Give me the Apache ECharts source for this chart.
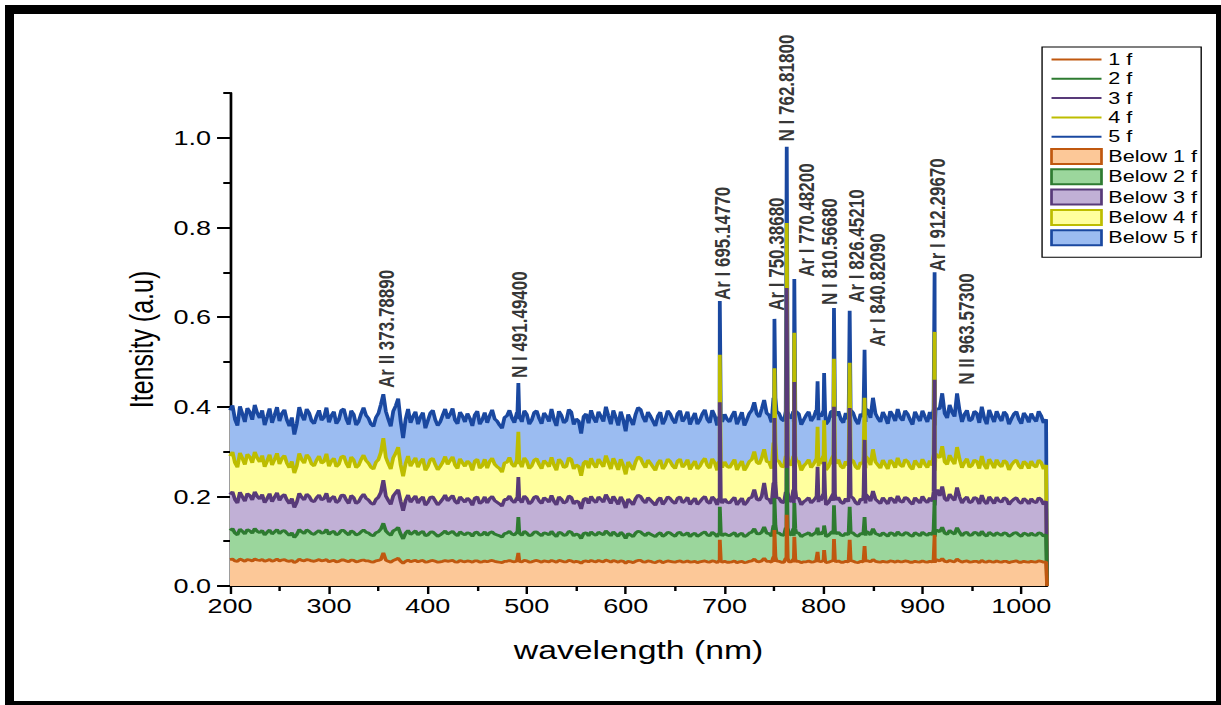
<!DOCTYPE html>
<html>
<head>
<meta charset="utf-8">
<script src="https://cdn.jsdelivr.net/npm/echarts@6/dist/echarts.min.js"></script>
<style>
html, body { margin: 0; padding: 0; background: #fff; overflow: hidden; width: 1221px; height: 705px; }
/* the reference picture is stretched sideways, so the chart is drawn narrower and scaled */
#chart { position: absolute; left: 0; top: 0; width: 904px; height: 705px; transform: scaleX(1.3507); transform-origin: 0 0; }
#frame { position: absolute; left: 5px; top: 5px; width: 1220px; height: 705px; box-sizing: border-box; border: 9px solid #000; pointer-events: none; }
</style>
</head>
<body>
<div id="chart"></div>
<div id="frame"></div>
<script>
// ---- data (intensity in thousandths) ----
// f* : samples at 200, 205, ... 1025 nm ; h* : samples at 202.5, 207.5, ... 1022.5 nm
const gridStart = 200
const gridStep = 5
const specEnd = 1026

const f5 = [
  [392,372,401,366,388,404,375,359,396,381,368,393,357,338,399,370,386,362,392,376],
  [365,389,371,395,360,383,367,398,374,356,385,428,372,390,418,330,395,378,361,387],
  [369,392,358,381,374,396,362,379,385,357,390,371,364,393,368,352,380,375,387,366],
  [383,370,391,362,378,395,357,381,369,388,373,340,384,392,365,378,400,361,376,389],
  [345,371,383,394,366,379,357,388,372,384,363,391,375,360,386,370,393,364,380,372],
  [383,366,390,374,358,385,410,377,415,381,372,385,368,379,366,384,371,389,376,370],
  [382,368,375,390,364,372,386,361,378,392,420,374,388,362,381,395,369,384,360,377],
  [391,366,372,395,430,375,388,430,366,392,372,385,400,361,379,390,368,382,373,389],
  [362,378,385,367,380,372]
]
const h5 = [
  [403,358,384,397,371,386,392,377,364,399,385,370,376,362,381,395,368,379,370,398],
  [380,362,392,373,391,359,384,381,361,376,405,390,356,402,368,372,364,389,377,352],
  [386,371,366,395,383,370,388,366,374,382,361,387,380,373,359,376,392,364,372,391],
  [361,387,374,386,367,372,390,364,394,360,368,378,363,375,389,367,380,392,358,371],
  [383,359,398,377,388,368,379,361,391,371,385,367,389,374,361,384,372,392,358,366],
  [372,380,361,388,371,392,384,395,386,365,390,372,391,374,389,360,381,368,392,378],
  [361,389,380,372,386,393,370,384,366,375,385,366,377,390,368,376,391,371,389,368],
  [378,388,358,396,385,404,378,392,383,368,390,364,375,393,366,377,389,361,384,372],
  [386,365,374,390,364]
]
const f4 = [
  [290,275,297,271,288,299,277,266,293,282,272,291,264,252,296,274,286,268,290,278],
  [267,285,272,290,264,281,269,292,274,261,282,330,273,286,310,245,290,277,265,284],
  [267,285,259,276,271,288,262,275,279,258,283,268,263,285,266,254,276,272,281,265],
  [278,268,284,262,274,287,258,277,267,282,270,246,279,285,264,274,291,261,273,283],
  [249,268,277,285,264,274,258,281,269,278,262,283,271,260,279,267,285,263,275,269],
  [277,264,282,270,258,278,300,272,305,276,269,278,266,274,264,278,268,282,272,267],
  [276,266,271,282,263,269,279,261,273,284,305,270,281,261,275,286,266,278,260,272],
  [283,264,269,290,312,271,281,310,264,284,269,278,290,261,274,282,266,276,270,281],
  [262,273,279,265,276,270]
]
const h4 = [
  [299,265,285,294,275,286,291,279,270,296,285,274,278,268,282,293,272,281,274,295],
  [279,266,288,274,288,264,282,280,265,276,298,287,261,296,270,273,267,286,277,258],
  [282,271,267,289,280,270,284,267,273,279,263,283,278,272,262,275,287,266,272,286],
  [262,281,271,280,266,270,283,264,286,261,267,274,263,272,283,266,276,285,259,269],
  [277,259,288,273,281,266,274,261,283,268,279,265,282,270,261,278,269,284,258,264],
  [267,273,259,279,267,282,276,285,278,262,281,267,282,269,280,258,274,264,282,272],
  [259,280,273,267,278,283,266,276,263,270,277,263,271,281,264,270,282,266,280,264],
  [272,280,257,286,277,292,272,283,276,265,281,262,270,283,263,271,280,259,277,268],
  [278,262,269,281,261]
]
const f3 = [
  [204,193,209,189,202,210,194,186,206,198,191,204,184,175,207,192,200,188,203,195],
  [187,200,190,203,184,197,188,205,192,182,198,236,191,201,215,168,203,194,185,199],
  [187,199,181,194,190,202,184,193,196,180,199,188,185,200,187,178,193,191,197,186],
  [195,188,200,184,193,202,181,194,188,198,190,172,196,200,186,193,204,184,191,199],
  [174,188,195,200,185,192,180,197,189,195,184,199,190,182,196,188,200,184,193,189],
  [194,185,198,189,181,196,215,191,230,193,188,196,186,192,185,195,188,197,191,187],
  [194,186,190,198,184,188,196,182,192,199,212,189,197,183,193,201,187,195,182,191],
  [200,186,189,215,222,190,197,220,185,199,188,195,203,183,192,198,187,194,189,197],
  [184,191,195,186,193,189]
]
const h3 = [
  [210,185,199,206,192,200,204,195,188,208,200,192,195,187,198,205,190,197,192,207],
  [196,186,202,192,202,184,198,196,185,193,209,201,182,208,189,191,187,201,194,180],
  [198,190,187,203,196,189,199,187,191,196,184,199,195,191,183,193,201,186,190,201],
  [183,198,190,197,187,189,199,185,201,183,187,193,184,191,199,187,194,200,182,189],
  [194,181,203,191,197,186,192,182,199,188,196,186,198,189,182,195,188,199,181,185],
  [187,192,181,196,187,198,194,200,195,183,197,187,198,188,197,181,192,185,198,191],
  [181,197,192,187,195,199,186,194,184,189,194,184,190,197,185,189,198,187,197,185],
  [191,197,180,201,195,205,191,199,194,186,198,183,189,199,184,190,197,182,194,188],
  [195,183,188,197,182]
]
const f2 = [
  [124,118,127,116,123,128,119,114,125,121,117,124,113,108,126,117,122,115,124,119],
  [115,122,117,124,114,120,116,125,118,112,121,140,117,123,131,105,124,119,114,122],
  [114,121,111,118,116,122,112,117,119,111,120,115,113,121,114,109,118,116,120,113],
  [118,114,121,112,117,122,110,118,114,120,116,106,119,121,113,117,123,112,116,120],
  [106,114,118,121,112,116,110,119,114,118,111,120,115,110,118,114,121,112,116,114],
  [117,112,119,115,110,118,128,116,132,117,114,118,113,116,112,118,114,119,116,113],
  [117,113,115,120,112,114,118,111,116,120,128,115,119,111,117,121,113,118,111,116],
  [120,113,114,124,131,115,119,130,112,120,114,118,122,111,116,119,113,117,114,119],
  [111,116,118,113,117,115]
]
const h2 = [
  [128,114,122,126,118,122,124,120,116,126,122,118,119,115,121,125,117,120,118,126],
  [120,114,124,118,123,114,121,120,114,119,127,123,113,126,116,118,115,123,119,112],
  [120,116,114,123,119,116,121,114,117,119,113,121,119,116,112,117,122,114,116,122],
  [112,120,116,119,114,115,120,113,122,112,114,117,112,116,120,114,118,121,111,115],
  [117,110,122,116,119,113,116,111,120,114,118,113,119,115,111,118,114,120,110,112],
  [114,116,110,118,113,120,117,120,118,111,119,114,119,114,119,110,116,112,120,115],
  [110,119,116,114,118,120,113,117,112,114,117,112,115,119,112,115,119,113,119,112],
  [116,119,110,121,118,124,116,120,118,113,120,112,115,120,112,116,119,111,118,114],
  [118,112,114,119,111]
]
const f1 = [
  [59,56,60,55,58,60,57,55,59,57,56,59,55,52,60,56,58,55,59,57],
  [54,57,55,58,54,57,55,58,56,53,57,74,55,57,62,51,58,56,54,57],
  [54,57,53,55,55,57,53,55,56,53,56,54,54,57,54,52,55,55,56,54],
  [56,54,57,53,55,57,53,56,54,56,55,51,56,57,54,55,58,53,55,56],
  [51,54,55,57,53,55,52,56,54,55,53,56,54,53,55,54,56,53,55,54],
  [55,53,56,54,52,55,60,54,62,55,54,55,53,54,53,55,54,56,54,53],
  [55,53,54,56,53,54,55,52,54,56,59,54,55,53,55,56,54,55,53,54],
  [56,53,54,58,61,54,55,60,53,56,54,55,57,53,54,56,53,55,54,56],
  [53,54,55,53,55,54]
]
const h1 = [
  [60,55,58,59,56,58,59,57,55,60,58,56,57,55,57,59,56,57,56,59],
  [56,54,58,56,58,54,57,56,54,56,59,58,53,59,55,55,54,57,56,53],
  [56,55,54,57,56,54,57,54,55,56,53,56,56,55,53,55,57,54,55,57],
  [53,56,55,56,54,55,57,54,57,53,54,55,54,55,57,54,56,57,53,55],
  [55,52,57,54,56,53,55,52,56,54,55,53,56,54,52,55,54,56,52,53],
  [53,54,52,55,53,56,55,56,55,53,56,53,56,54,55,52,54,53,56,54],
  [52,55,54,53,55,56,53,55,53,54,55,53,54,56,53,54,56,53,55,53],
  [54,55,52,56,55,57,54,56,55,53,55,52,54,56,53,54,55,52,55,53],
  [55,53,54,56,53]
]

// emission lines: position, top value and foot value for each series
const peakWl = [491.5, 695.15, 750.39, 762.82, 770.48, 794, 800.6, 810.57, 826.45, 841.5, 912.3]
const top5 = [453, 636, 596, 980, 685, 457, 475, 620, 614, 527, 700]
const top4 = [344, 516, 486, 810, 565, 355, 370, 507, 498, 420, 567]
const top3 = [243, 410, 375, 665, 455, 266, 277, 400, 397, 326, 460]
const top2 = [154, 177, 196, 263, 185, 130, 135, 180, 177, 154, 192]
const top1 = [74, 103, 125, 159, 110, 76, 80, 105, 103, 89, 114]
const foot5 = [380, 378, 420, 390, 390, 385, 390, 390, 385, 395, 395]
const foot4 = [280, 278, 320, 290, 290, 285, 290, 290, 285, 290, 295]
const foot3 = [195, 195, 230, 210, 215, 200, 205, 205, 200, 205, 210]
const foot2 = [118, 118, 135, 130, 128, 120, 122, 122, 120, 122, 125]
const foot1 = [55, 56, 65, 62, 60, 56, 57, 57, 57, 57, 58]

// line labels: text, wavelength where the label stands, intensity where it starts
const annoText = ['Ar II 373.78890', 'N I 491.49400', 'Ar I 695.14770', 'Ar I 750.38680', 'N I 762.81800',
  'Ar I 770.48200', 'N I 810.56680', 'Ar I 826.45210', 'Ar I 840.82090', 'Ar I 912.29670', 'N II 963.57300']
const annoX = [357.7, 491.7, 697, 752, 762.2, 782.4, 805.2, 832.4, 854.2, 914.3, 943.7]
const annoY = [0.442, 0.464, 0.638, 0.614, 0.992, 0.69, 0.627, 0.632, 0.534, 0.7015, 0.449]

const names = ['1 f', '2 f', '3 f', '4 f', '5 f']
const xMajor = [200, 300, 400, 500, 600, 700, 800, 900, 1000]
const xMinor = [250, 350, 450, 550, 650, 750, 850, 950]
const yMajor = [0, 0.2, 0.4, 0.6, 0.8, 1.0]
const yMinor = [0.1, 0.3, 0.5, 0.7, 0.9, 1.1]

// ---- styles ----
const lineColors = ['#c0580f', '#2e7b31', '#583a79', '#bdbd00', '#1a48a0']
const fillColors = ['#fcc898', '#9bd69c', '#c1b0d6', '#ffff9e', '#9bbcf1']
const font = "'Liberation Sans', Arial, sans-serif"

function buildData(rows, mids, tops, feet) {
  let pts = rows.flat().map((v, i) => [gridStart + gridStep * i, v / 1000])
  mids.flat().forEach((v, i) => pts.push([gridStart + gridStep / 2 + gridStep * i, v / 1000]))
  peakWl.forEach((w, k) => {
    pts.push([w - 1, feet[k] / 1000], [w, tops[k] / 1000], [w + 1, feet[k] / 1000])
  })
  pts.push([specEnd, 0])
  pts.sort((a, b) => a[0] - b[0])
  return pts
}

const spectra = [
  buildData(f1, h1, top1, foot1),
  buildData(f2, h2, top2, foot2),
  buildData(f3, h3, top3, foot3),
  buildData(f4, h4, top4, foot4),
  buildData(f5, h5, top5, foot5)
]

let series = []
for (let k = 4; k >= 0; k--) {
  series.push({
    name: 'Below ' + names[k],
    type: 'line',
    data: spectra[k],
    symbol: 'none',
    silent: true,
    lineStyle: { width: 0, opacity: 0 },
    itemStyle: { color: fillColors[k] },
    areaStyle: { color: fillColors[k], opacity: 1 }
  })
  series.push({
    name: names[k],
    type: 'line',
    data: spectra[k],
    symbol: 'none',
    silent: true,
    itemStyle: { color: lineColors[k] },
    lineStyle: { width: 2.8, color: lineColors[k] }
  })
}
series.push({
  type: 'scatter',
  symbolSize: 1,
  silent: true,
  z: 10,
  itemStyle: { color: 'transparent' },
  data: annoText.map((t, i) => ({ name: t, value: [annoX[i], annoY[i]] })),
  label: {
    show: true,
    formatter: '{b}',
    position: 'inside',
    rotate: 90,
    align: 'left',
    verticalAlign: 'middle',
    fontSize: 17,
    fontWeight: 'bold',
    fontFamily: font,
    color: '#000'
  }
})

let legendData = names.map((n, k) => ({
  name: n,
  icon: 'path://M0,0H37V2H0Z',
  itemStyle: { color: lineColors[k], borderWidth: 0 }
})).concat(names.map((n, k) => ({
  name: 'Below ' + n,
  icon: 'rect',
  itemStyle: { color: fillColors[k], borderColor: lineColors[k], borderWidth: 2 }
})))

let myChart = echarts.init(document.getElementById('chart'), null, { renderer: 'svg' })
let option = {
  animation: false,
  grid: { left: 170.3, right: 128.8, top: 93, bottom: 119, containLabel: false },
  legend: {
    orient: 'vertical',
    left: 771.5,
    top: 47,
    padding: [4.5, 3, 11, 6],
    itemWidth: 37,
    itemHeight: 15,
    itemGap: 3.3,
    borderColor: '#000',
    borderWidth: 1,
    borderRadius: 0,
    backgroundColor: '#fff',
    selectedMode: false,
    textStyle: { fontSize: 16, fontFamily: font, color: '#000' },
    data: legendData
  },
  xAxis: [
    {
      type: 'value',
      min: 200,
      max: specEnd,
      name: 'wavelength (nm)',
      nameLocation: 'middle',
      nameGap: 52,
      nameTextStyle: { fontSize: 25, fontFamily: font, color: '#000' },
      axisLine: { lineStyle: { color: '#000', width: 2 } },
      axisTick: { customValues: xMajor, length: 8, lineStyle: { color: '#000', width: 1.8 } },
      axisLabel: { customValues: xMajor, fontSize: 20, fontFamily: font, color: '#000', margin: 10,
        formatter: v => String(v) },
      splitLine: { show: false }
    },
    {
      type: 'value',
      min: 200,
      max: specEnd,
      position: 'bottom',
      axisLine: { show: false },
      axisTick: { customValues: xMinor, length: 5, lineStyle: { color: '#000', width: 1.8 } },
      axisLabel: { show: false },
      splitLine: { show: false }
    }
  ],
  yAxis: [
    {
      type: 'value',
      min: 0,
      max: 1.1,
      name: 'Itensity (a.u)',
      nameLocation: 'middle',
      nameGap: 53,
      nameTextStyle: { fontSize: 25, fontFamily: font, color: '#000' },
      axisLine: { show: true, lineStyle: { color: '#000', width: 2 } },
      axisTick: { show: true, customValues: yMajor, length: 9.6, lineStyle: { color: '#000', width: 2 } },
      axisLabel: { customValues: yMajor, fontSize: 20, fontFamily: font, color: '#000', margin: 14,
        formatter: v => v.toFixed(1) },
      splitLine: { show: false }
    },
    {
      type: 'value',
      min: 0,
      max: 1.1,
      position: 'left',
      axisLine: { show: false },
      axisTick: { show: true, customValues: yMinor, length: 5, lineStyle: { color: '#000', width: 2 } },
      axisLabel: { show: false },
      splitLine: { show: false }
    }
  ],
  series: series
}
myChart.setOption(option)
</script>
</body>
</html>
